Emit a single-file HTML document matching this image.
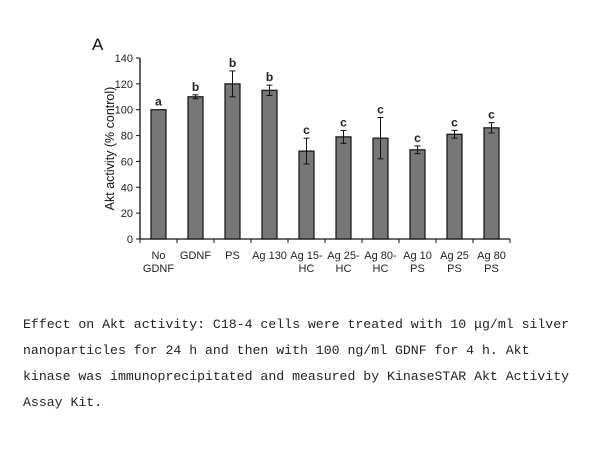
<!DOCTYPE html>
<html><head><meta charset="utf-8"><style>
body{margin:0;background:#fff;width:605px;height:454px;overflow:hidden;position:relative}
svg{position:absolute;left:0;top:0}
.cap{position:absolute;left:23px;font-family:"Liberation Mono","Noto Serif CJK SC",monospace;font-size:13.2px;color:#222;white-space:nowrap;line-height:16px}
</style></head><body>
<svg id="chart" width="605" height="300" font-family="Liberation Sans, Arial, sans-serif"></svg>
<div class="cap" style="top:317px">Effect on Akt activity: C18-4 cells were treated with 10 μg/ml silver</div>
<div class="cap" style="top:343px">nanoparticles for 24 h and then with 100 ng/ml GDNF for 4 h. Akt</div>
<div class="cap" style="top:369px">kinase was immunoprecipitated and measured by KinaseSTAR Akt Activity</div>
<div class="cap" style="top:395px">Assay Kit.</div>
<script>
const categories=[["No","GDNF"],["GDNF"],["PS"],["Ag 130"],["Ag 15-","HC"],["Ag 25-","HC"],["Ag 80-","HC"],["Ag 10","PS"],["Ag 25","PS"],["Ag 80","PS"]];
const values=[100,110,120,115,68,79,78,69,81,86];
const errors=[0,1.5,10,4,10,5,16,3,3,4];
const sigLetters=["a","b","b","b","c","c","c","c","c","c"];
const yTicks=[0,20,40,60,80,100,120,140];
const svg=document.getElementById('chart');
const NS='http://www.w3.org/2000/svg';
const x0=140,x1=510,yBase=239,yTop=58,yMax=140;
const step=(x1-x0)/categories.length;
const y=v=>yBase-(yBase-yTop)*v/yMax;
const xc=i=>x0+step*(i+0.5);
function mk(t,a){const e=document.createElementNS(NS,t);for(const k in a)e.setAttribute(k,a[k]);svg.appendChild(e);return e;}
let e;
e=mk('text',{x:92,y:50,'font-size':17,fill:'#111'});e.textContent='A';


e=mk('line',{x1:x0,y1:y(0),x2:x0,y2:y(140),stroke:'#111','stroke-width':1.3});


e=mk('line',{x1:x0,y1:y(0),x2:x1,y2:y(0),stroke:'#111','stroke-width':1.3});


yTicks.forEach(t=>{
 mk('line',{x1:x0-4,y1:y(t),x2:x0,y2:y(t),stroke:'#111'});
 e=mk('text',{x:x0-7,y:y(t)+4,'font-size':11,'text-anchor':'end',fill:'#222'});e.textContent=t;
 
 
});
e=mk('text',{x:0,y:0,'font-size':12.5,'text-anchor':'middle',fill:'#111',transform:`translate(${x0-26},${(y(0)+y(140))/2}) rotate(-90)`});
e.textContent='Akt activity (% control)';


for(let i=0;i<=categories.length;i++)mk('line',{x1:x0+step*i,y1:y(0),x2:x0+step*i,y2:y(0)+4,stroke:'#111'});
const bw=15;
values.forEach((v,i)=>{
 e=mk('rect',{x:xc(i)-bw/2,y:y(v),width:bw,height:y(0)-y(v),fill:'#777',stroke:'#111','stroke-width':1.2});
 
 
 const er=errors[i];
 if(er>0){
  mk('line',{x1:xc(i),y1:y(v+er),x2:xc(i),y2:y(v-er),stroke:'#111'});
  mk('line',{x1:xc(i)-3,y1:y(v+er),x2:xc(i)+3,y2:y(v+er),stroke:'#111'});
  mk('line',{x1:xc(i)-3,y1:y(v-er),x2:xc(i)+3,y2:y(v-er),stroke:'#111'});
 }
 e=mk('text',{x:xc(i),y:y(v+er)-4,'font-size':12,'font-weight':'bold','text-anchor':'middle',fill:'#222'});e.textContent=sigLetters[i];
 
 
 categories[i].forEach((s,j)=>{
  e=mk('text',{x:xc(i),y:y(0)+20+j*13,'font-size':11,'text-anchor':'middle',fill:'#222'});e.textContent=s;
  
  
 });
});
</script>
</body></html>
